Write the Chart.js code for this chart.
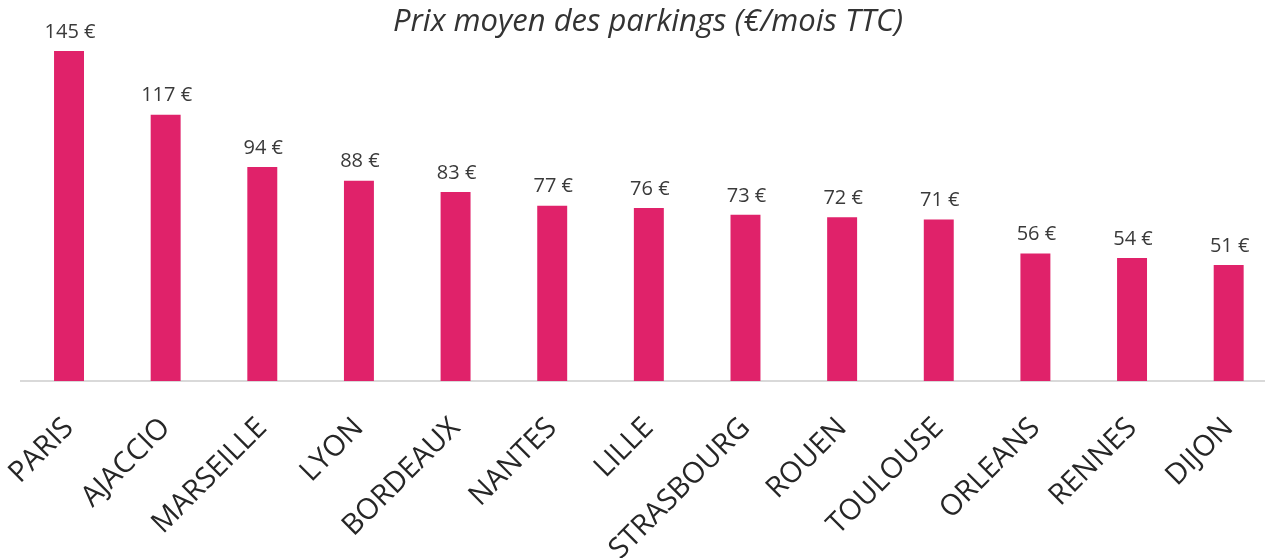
<!DOCTYPE html>
<html>
<head>
<meta charset="utf-8">
<script src="https://cdn.jsdelivr.net/npm/chart.js@4.4.0/dist/chart.umd.min.js"></script>
<style>
  html, body { margin: 0; padding: 0; background: #fff; overflow: hidden; }
  #wrap { width: 1290px; height: 558px; }
</style>
</head>
<body>
<div id="wrap"><canvas id="graf"></canvas></div>
<script>
// Données
var villes = ['PARIS', 'AJACCIO', 'MARSEILLE', 'LYON', 'BORDEAUX', 'NANTES', 'LILLE',
    'STRASBOURG', 'ROUEN', 'TOULOUSE', 'ORLEANS', 'RENNES', 'DIJON'];
var prix = [145, 117, 94, 88, 83, 77, 76, 73, 72, 71, 56, 54, 51];
var titre = 'Prix moyen des parkings (€/mois TTC)';

var couleurBarre = '#E0226A';

// Titre + étiquettes de valeurs
var etiquettes = {
    id: 'etiquettes',
    afterDatasetsDraw: function (chart) {
        var ctx = chart.ctx;
        ctx.save();
        ctx.fillStyle = '#3a3a3a';
        ctx.font = '20px "Open Sans"';
        ctx.textAlign = 'center';
        ctx.textBaseline = 'bottom';
        chart.getDatasetMeta(0).data.forEach(function (bar, i) {
            ctx.fillText(prix[i] + ' €', bar.x + 1, bar.y - 9);
        });
        ctx.font = 'italic 31px "Open Sans"';
        ctx.fillStyle = '#333333';
        ctx.textBaseline = 'middle';
        ctx.fillText(titre, 648, 22);
        ctx.restore();
    }
};

new Chart(document.getElementById('graf').getContext('2d'), {
    type: 'bar',
    data: {
        labels: villes,
        datasets: [{
            data: prix,
            backgroundColor: couleurBarre,
            borderWidth: 0,
            barPercentage: 0.62,
            categoryPercentage: 0.5
        }]
    },
    options: {
        responsive: true,
        maintainAspectRatio: false,
        animation: false,
        layout: { padding: { left: 20.7, right: 13, top: 0, bottom: 0 } },
        plugins: {
            legend: { display: false },
            tooltip: { enabled: false },
            title: { display: false }
        },
        scales: {
            y: {
                display: false,
                min: 0,
                max: 167.4
            },
            x: {
                grid: { display: false, drawTicks: false },
                border: { display: true, color: '#d9d9d9', width: 2 },
                ticks: {
                    minRotation: 45,
                    maxRotation: 45,
                    autoSkip: false,
                    padding: 30,
                    color: '#262626',
                    font: { family: '"Open Sans"', size: 29 }
                },
                afterFit: function (scale) {
                    scale.height = 177;
                    scale.paddingLeft = 0;
                    scale.paddingRight = 0;
                }
            }
        }
    },
    plugins: [etiquettes]
});
</script>
</body>
</html>
